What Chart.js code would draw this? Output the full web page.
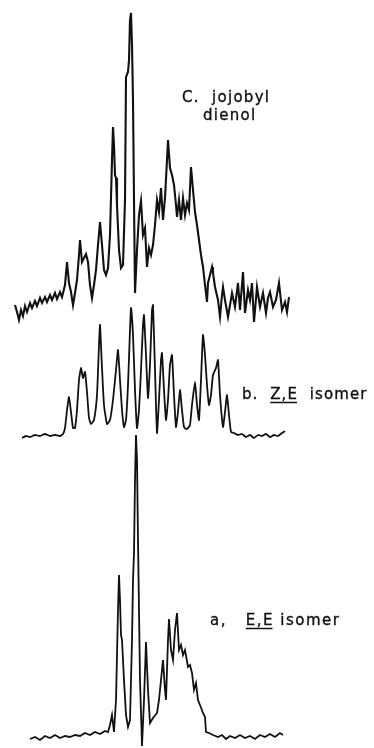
<!DOCTYPE html>
<html>
<head>
<meta charset="utf-8">
<script src="https://cdn.jsdelivr.net/npm/chart.js@4/dist/chart.umd.min.js"></script>
<style>
  html, body { margin: 0; padding: 0; background: #ffffff; }
  #wrap { position: relative; width: 374px; height: 748px; }
</style>
</head>
<body>
<div id="wrap"><canvas id="c" width="374" height="748"></canvas></div>
<script>
// ---- Spectrum c: jojobyl dienol (shift units, relative intensity) ----
const shiftC = [15,17,19,21,23,25,27,30,32,35,37,40,42,45,47,50,52,55,57,60,62,65,67,69,71,73,75,77,79,80,82,84,86,88,90,92,94,96,98,100,102,104,106,108,110,112,113,114,115,116,117,119,121,123,125,126,128,129,130,131,132,133,134,135,137,139,141,143,145,147,149,151,153,155,157,159,161,163,165,167,168,170,172,174,176,177,179,181,183,185,187,189,191,193,195,197,199,201,203,205,207,208,210,212,213,215,218,220,222,223,225,228,230,232,235,238,240,243,245,248,250,252,254,257,260,263,266,268,270,273,276,279,282,285,287,289];
const intensC = [10,3,-5,5,-1,9,3,12,7,14,9,17,12,18,13,20,15,22,16,23,18,30,53,32,23,10,22,35,60,75,53,57,61,53,30,17,30,45,70,93,70,45,40,47,80,155,188,170,140,137,110,65,47,50,115,238,243,255,295,302,270,215,115,22,65,100,114,80,87,48,67,60,70,90,115,103,127,95,117,155,175,147,140,130,110,98,115,95,117,100,112,105,148,125,103,90,75,60,48,30,13,32,40,48,42,28,15,-2,20,28,15,-2,10,22,8,32,5,43,2,25,15,32,-7,28,8,22,2,17,23,8,15,32,5,13,3,18];

// ---- Spectrum b: Z,E isomer ----
const shiftB = [22,26,30,35,40,45,50,55,60,63,65,67,69,71,73,75,77,79,81,83,85,87,89,91,94,97,99,100,102,104,107,110,113,116,118,120,122,124,126,128,130,131,133,135,137,139,141,143,144,146,148,150,152,153,155,157,159,161,162,164,166,168,170,172,174,176,178,180,182,184,186,188,190,192,195,197,199,201,203,205,207,209,211,213,216,218,220,223,225,227,229,231,234,238,242,246,250,254,258,262,266,270,274,278,282,285];
const intensB = [-1,1,0,2,1,3,1,2,1,3,9,27,40,25,9,9,27,57,69,59,65,45,19,13,17,42,92,112,69,32,13,17,37,67,87,57,27,10,17,52,107,129,102,47,9,27,67,112,122,82,39,72,127,132,67,4,37,77,84,47,17,37,72,82,42,10,25,47,27,10,8,9,12,32,55,32,17,57,102,82,52,32,42,62,69,77,42,10,25,42,22,5,4,2,3,0,2,-1,2,1,3,0,2,1,4,6];

// ---- Spectrum a: E,E isomer ----
const shiftA = [30,35,40,45,50,55,60,65,70,75,80,85,90,95,100,105,108,110,112,114,116,118,119,120,121,122,124,126,128,130,132,133,134,135,136,137,138,140,142,144,146,148,150,153,157,159,161,163,165,166,168,169,171,173,175,177,179,181,183,185,188,190,192,194,196,198,200,203,205,206,209,213,218,222,226,230,235,240,245,250,255,260,265,270,275,280,283];
const intensA = [-1,1,-2,2,0,3,0,2,1,3,2,5,3,6,4,7,6,13,23,6,38,128,163,138,103,98,58,23,11,18,98,158,185,258,303,278,198,58,-8,38,96,48,15,20,25,38,58,78,48,38,98,119,88,78,108,125,88,93,83,88,71,73,65,48,55,38,33,25,21,6,5,3,1,3,-1,2,0,3,0,2,-1,3,1,4,1,5,3];

const labelC1 = 'C.  jojobyl';
const labelC2 = 'dienol';
const labelB = ['b.  ', 'Z,E', '  isomer'];
const labelA = ['a,   ', 'E,E', ' isomer'];

const toPts = (xs, ys) => xs.map((x, i) => ({ x: x, y: ys[i] }));

const labelPlugin = {
  id: 'labels',
  afterDraw(chart) {
    const ctx = chart.ctx;
    const sx = chart.scales.x;
    ctx.save();
    ctx.fillStyle = '#111';
    ctx.strokeStyle = '#111';
    ctx.textBaseline = 'alphabetic';
    const put = (parts, xv, yv, axis, size, ls, underlineIdx) => {
      const px = sx.getPixelForValue(xv);
      const py = chart.scales[axis].getPixelForValue(yv);
      ctx.font = size + 'px "DejaVu Sans"';
      ctx.letterSpacing = ls + 'px';
      let cx = px;
      parts.forEach((p, i) => {
        const w = ctx.measureText(p).width;
        ctx.lineWidth = 0.35;
        ctx.fillText(p, cx, py);
        ctx.strokeText(p, cx, py);
        if (i === underlineIdx) {
          ctx.lineWidth = 1.5;
          ctx.beginPath();
          ctx.moveTo(cx, py + 3.5);
          ctx.lineTo(cx + w - ls, py + 3.5);
          ctx.stroke();
        }
        cx += w;
      });
    };
    put([labelC1], 182, 213, 'yC', 15, 1.3, -1);
    put([labelC2], 203, 195, 'yC', 15, 1.3, -1);
    put(labelB, 242, 38, 'yB', 15, 1.1, 1);
    put(labelA, 210, 113, 'yA', 15, 1.5, 1);
    ctx.restore();
  }
};

new Chart(document.getElementById('c'), {
  type: 'line',
  data: {
    datasets: [
      { label: 'c. jojobyl dienol', data: toPts(shiftC, intensC), yAxisID: 'yC', borderColor: '#111', borderWidth: 2.1, pointRadius: 0, tension: 0, fill: false },
      { label: 'b. Z,E isomer', data: toPts(shiftB, intensB), yAxisID: 'yB', borderColor: '#111', borderWidth: 1.8, pointRadius: 0, tension: 0.15, fill: false },
      { label: 'a. E,E isomer', data: toPts(shiftA, intensA), yAxisID: 'yA', borderColor: '#111', borderWidth: 1.8, pointRadius: 0, tension: 0, fill: false }
    ]
  },
  options: {
    responsive: false,
    animation: false,
    layout: { padding: 0 },
    plugins: { legend: { display: false }, tooltip: { enabled: false }, title: { display: false } },
    scales: {
      x: { type: 'linear', min: 0, max: 374, display: false },
      yC: { type: 'linear', min: -433, max: 315, display: false },
      yB: { type: 'linear', min: -311, max: 437, display: false },
      yA: { type: 'linear', min: -10, max: 738, display: false }
    }
  },
  plugins: [labelPlugin]
});
</script>
</body>
</html>
